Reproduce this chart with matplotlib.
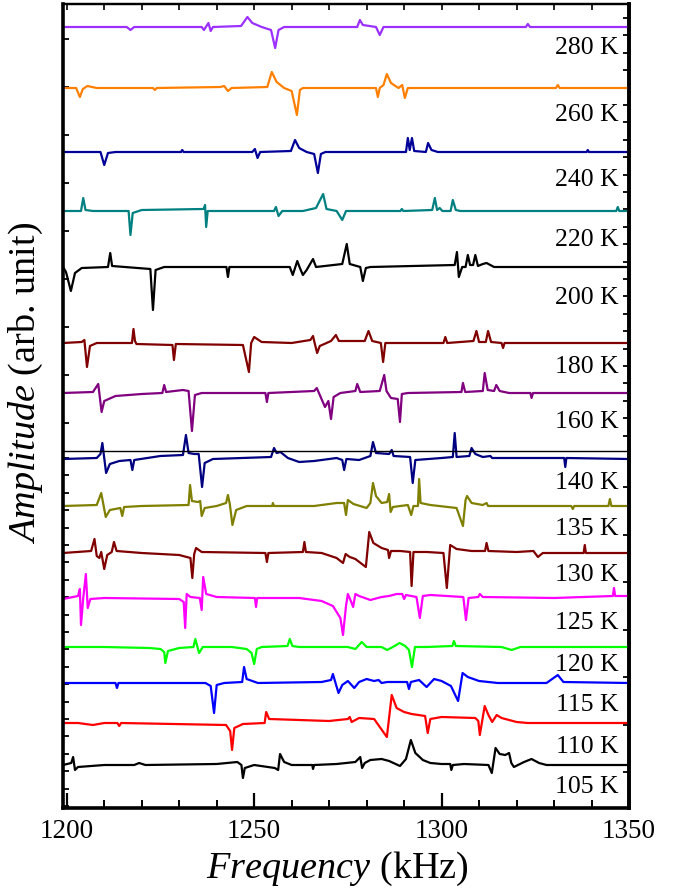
import matplotlib
matplotlib.use("Agg")
import matplotlib.pyplot as plt
import numpy as np
from matplotlib.ticker import MultipleLocator

# temperatures, top to bottom
temps = [280, 260, 240, 220, 200, 180, 160, 140, 135, 130, 125, 120, 115, 110, 105]

# spectra: (frequency kHz, amplitude arb. unit)
t280 = [(1199, 0), (1216, 0), (1217, -3), (1218, 0), (1236, 0), (1236.6, -3), (1237.8, 4), (1238.4, -4),
        (1239, 0), (1246.5, 1), (1248.2, 10), (1249.5, 4), (1252, 0), (1254.5, -3), (1255.6, -21),
        (1256.5, -3), (1258, 0), (1277.5, 0), (1278.2, 7), (1279, 2), (1282.5, 0), (1283.5, -8),
        (1284.5, 0), (1322.5, 0), (1323, 3), (1323.6, 0), (1350, 0)]
t260 = [(1199, 0), (1202.5, 0), (1203.5, -9), (1204.3, -1), (1205.5, 2), (1208, 0), (1223, 0), (1223.5, -2),
        (1224, 0), (1241, 1), (1242, 2), (1243, -3), (1244, 0), (1253.5, 1), (1254.7, 16), (1256, 6),
        (1258, 0), (1260, -3), (1261.4, -27), (1262.2, -2), (1263, 0), (1282.5, 0), (1283, -9), (1283.5, 0),
        (1284.5, 3), (1285.4, 14), (1286.5, 5), (1288.5, 0), (1289.5, 3), (1290.2, -10), (1291, 0),
        (1330.5, 0), (1331, 3), (1331.5, 0), (1350, 0)]
t240 = [(1199, 0), (1209, 0), (1210, -13), (1211, -1), (1213, 0), (1230.5, 0), (1230.8, 2), (1231.2, 0),
        (1249.5, 0), (1250.2, 3), (1250.9, -6), (1251.6, 0), (1259.8, 1), (1260.9, 12), (1262, 4),
        (1264, 0), (1266, -2), (1267, -21), (1267.8, -2), (1269, 0), (1290.5, 0), (1291, 14), (1291.5, 2),
        (1292.1, 14), (1292.7, 1), (1295.8, 0), (1296.4, 9), (1297.3, 2), (1299, 0), (1338.7, 0),
        (1339, 2), (1339.3, 0), (1350, 0)]
t220 = [(1199, 0), (1203.8, 0), (1204.4, 13), (1205, 1), (1207, 0), (1216.5, 0), (1217, -24), (1217.6, -2),
        (1220, 1), (1236.5, 2), (1236.9, 6), (1237.2, -16), (1237.6, 0), (1255.3, 0), (1255.8, 4),
        (1256.5, -5), (1257.5, 0), (1263, 0), (1266.5, 3), (1268.4, 17), (1269.3, 2), (1272, 0),
        (1273.5, -9), (1274.5, 0), (1289, 0), (1289.4, 2), (1289.8, 0), (1297.5, 1), (1298.2, 13),
        (1298.8, 1), (1299.5, 3), (1300.2, 0), (1302.4, 0), (1303, 11), (1303.8, 1), (1305, 0),
        (1346.6, 0), (1347, 4), (1347.4, 0), (1350, 0)]
t200 = [(1199, 0), (1199.8, -5), (1201.1, -24), (1202.2, -6), (1204, -1), (1211, 0), (1211.6, 14),
        (1212.1, 1), (1222.3, -2), (1223, -43), (1223.7, -3), (1226, 0), (1242.6, 0), (1243, -10),
        (1243.4, 0), (1259.5, 0), (1260.3, -8), (1261.5, 6), (1262.2, -1), (1263, -8), (1264, -3),
        (1265.7, 8), (1266.5, 0), (1273.5, 3), (1274.7, 23), (1275.5, 3), (1278.3, 0), (1279, -14),
        (1279.8, -1), (1281, 0), (1303.5, 2), (1304.1, 15), (1304.6, -10), (1305.5, 0), (1306.4, 0),
        (1307, 12), (1307.6, 2), (1308.4, 2), (1309, 12), (1309.7, 1), (1311, 3), (1312, 4), (1314, 0),
        (1350, 0)]
t180 = [(1199, 0), (1204, 1), (1204.7, 3), (1205.4, -24), (1206.2, -3), (1208, 0), (1217.4, 0),
        (1217.8, 14), (1218.2, 2), (1218.6, -1), (1228.2, -2), (1228.6, -17), (1229.1, -1), (1247, -2),
        (1248.6, -29), (1249.2, 0), (1250, 6), (1252, 1), (1260, 0), (1265, 3), (1265.7, 7), (1266.2, -1),
        (1266.8, -10), (1267.5, -3), (1270.5, 2), (1271.8, 8), (1272.6, 2), (1279.5, 2), (1280.5, 12),
        (1281.5, 2), (1283.8, 0), (1284.4, -19), (1285, 0), (1300.5, 0), (1301, 6), (1301.5, 0),
        (1308.5, 2), (1309.3, 12), (1310, 1), (1311.8, 1), (1312.4, 12), (1313.2, 1), (1316, 0),
        (1316.4, -5), (1316.8, 0), (1350, 0)]
t160 = [(1199, 0), (1207, 1), (1208.4, 9), (1209.3, -19), (1210, -8), (1213, -3), (1220, -1), (1225.5, 0),
        (1226, 8), (1226.5, 1), (1231, 3), (1232.5, 2), (1233.4, -38), (1234.2, -2), (1236, 0), (1253, 0),
        (1253.4, -9), (1253.8, 0), (1266, 2), (1266.7, 5), (1268.9, -14), (1269.8, -8), (1270.5, -26),
        (1271.2, -4), (1273, 0), (1277, 2), (1277.5, 9), (1278.3, 1), (1283.5, 2), (1284.7, 18),
        (1285.3, 2), (1286.5, -5), (1288.3, -6), (1288.9, -29), (1289.4, -1), (1291, 0), (1305.3, 1),
        (1305.7, 10), (1306.3, 1), (1311, 2), (1311.5, 20), (1312.3, 3), (1314, 2), (1314.6, 8),
        (1315.5, 2), (1318, 0), (1323.7, 0), (1324, -5), (1324.4, 0), (1350, 0)]
t140 = [(1199, -1), (1208, 0), (1209, 4), (1209.5, 15), (1210.5, -15), (1211.5, -6), (1214, -3),
        (1217, -2), (1217.5, -12), (1218, -2), (1225, 2), (1231, 3), (1231.8, 23), (1232.5, 5), (1234, 4),
        (1235.2, 4), (1236.1, -29), (1236.8, -5), (1239, -1), (1254.5, 1), (1255.3, 10), (1256, 5),
        (1257, 6), (1259, 0), (1262, -4), (1266, -3), (1272, 0), (1273.5, -2), (1274, -12), (1274.6, -1),
        (1278, -2), (1281, 2), (1281.7, 16), (1282.5, 5), (1286, 4), (1286.7, 8), (1287.2, 2),
        (1291.6, 1), (1292.3, -25), (1293, -2), (1300, 0), (1303, 1), (1303.5, 25), (1304, 1),
        (1307.4, 2), (1308, 10), (1309, 4), (1311, 1), (1313, 2), (1313.5, 0), (1332.7, 0), (1333, -9),
        (1333.3, 0), (1350, -1)]
t135 = [(1199, 0), (1208, 1), (1209.2, 13), (1210.4, -11), (1211.5, -4), (1214.3, -2), (1214.8, -10),
        (1215.3, -1), (1220, 0), (1232.5, 1), (1232.9, 21), (1233.4, 5), (1235, 4), (1235.6, 5),
        (1236, -10), (1236.8, -2), (1240, 0), (1242.5, 3), (1243, 11), (1243.5, 2), (1244.2, -19),
        (1245.2, -4), (1248, 0), (1254.8, 0), (1255, 3), (1255.3, 0), (1266, 0), (1272, 3), (1274, 3),
        (1274.5, -9), (1275, 6), (1276.5, 2), (1280, -2), (1281, 3), (1281.7, 23), (1282.5, 10),
        (1284, 3), (1285.5, 4), (1286, 12), (1286.4, -6), (1287, -1), (1291, 1), (1291.9, -9),
        (1292.5, 0), (1293.7, 0), (1294, 27), (1294.4, 3), (1297, 1), (1304, -2), (1305.7, -20),
        (1306.4, 6), (1306.8, 10), (1308, 3), (1311, 1), (1312, 3), (1312.4, 0), (1334.6, 0),
        (1335, -3), (1335.4, 0), (1344.5, 0), (1344.9, 7), (1345.3, 0), (1350, 0)]
t130 = [(1199, 0), (1206.5, 2), (1207.4, 14), (1208, -3), (1208.7, -5), (1209.2, 1), (1210, -16),
        (1210.8, -2), (1212, 1), (1212.6, 11), (1213.3, 2), (1220, 0), (1230, -2), (1233, -5),
        (1233.5, -25), (1234, -1), (1234.5, 5), (1236, 1), (1253, 0), (1253.4, -9), (1253.8, 0),
        (1263, 1), (1263.4, 11), (1263.8, 1), (1268, 0), (1272, -5), (1273.7, -10), (1274.4, -1),
        (1275.5, -4), (1277, -6), (1279.8, -14), (1280.7, 21), (1281.8, 10), (1284, 5), (1285.7, 3),
        (1286, -5), (1286.5, 2), (1289, 2), (1291.6, 1), (1292, -33), (1292.5, 1), (1296, 1),
        (1300.5, 0), (1301.4, -35), (1302.3, 8), (1304, 4), (1308, 2), (1311.6, 2), (1312, 10),
        (1312.5, 2), (1320, 1), (1324.5, 2), (1325.7, -4), (1327, 0), (1337.9, 0), (1338.2, 8),
        (1338.5, 0), (1350, 0)]
t125 = [(1199, -1), (1203, 2), (1203.5, 9), (1203.8, -27), (1204.4, 0), (1205.1, 24), (1205.6, -10),
        (1206.3, -1), (1210, 0), (1230, -1), (1231.2, -4), (1231.6, -30), (1232, 4), (1233, 1),
        (1235.5, 0), (1236, -12), (1236.4, 21), (1237.2, 4), (1240, 1), (1250.2, 0), (1250.5, -9),
        (1250.8, 0), (1262, 0), (1268, -3), (1271, -8), (1273, -20), (1273.7, -37), (1274.5, -8),
        (1275, 4), (1275.8, -3), (1276.4, -9), (1277, 4), (1278, 2), (1281, -2), (1284, 1), (1286, 2),
        (1288, 4), (1289.5, 4), (1290, -1), (1290.5, 3), (1293.3, 1), (1294.2, -20), (1295, 2),
        (1297, 3), (1305.8, 1), (1306.5, -22), (1307.2, 0), (1309.8, 1), (1310.2, 4), (1311, 1),
        (1330, 0), (1345.7, 2), (1346, 10), (1346.3, 2), (1350, 2)]
t120 = [(1199, 0), (1210, 0), (1222, -1), (1225, -2), (1226, -5), (1226.3, -16), (1227, -4), (1230, -1),
        (1233.8, 0), (1234.3, 8), (1234.8, 1), (1235.3, -6), (1236.3, 0), (1244, 0), (1248, -2),
        (1249.3, -6), (1250, -17), (1250.7, -2), (1252, 0), (1258.9, 1), (1259.5, 8), (1260.2, 1),
        (1262, 0), (1275, 0), (1277, -2), (1278.7, 5), (1280, 0), (1284, 0), (1285.5, -3), (1287, 0),
        (1288.8, 4), (1290.3, 1), (1291.3, -3), (1292.1, -20), (1292.9, 0), (1296, 0), (1302.9, 1),
        (1303.3, 6), (1303.8, 1), (1316, 0), (1318.7, -3), (1321, 0), (1350, 0)]
t115 = [(1199, 0), (1213, 0), (1213.4, -5), (1213.8, 0), (1237, 0), (1238.4, -3), (1239.3, -30),
        (1240, -2), (1242, 0), (1246.8, 1), (1247.3, 16), (1248, 4), (1251, 0), (1268, 1), (1270.5, 3),
        (1271, 9), (1272.5, -10), (1273.5, -2), (1275, 2), (1276.7, -5), (1278, 1), (1280, 4),
        (1282, 2), (1283.2, 3), (1284, 0), (1285.5, 1), (1290.8, 1), (1291.3, -6), (1291.8, 1),
        (1294, 3), (1296, -4), (1298, 4), (1300, 2), (1302.5, -3), (1304.4, -18), (1305.6, 10),
        (1307, 6), (1310, 2), (1315, 0), (1328, 0), (1331, 8), (1332.5, 1), (1350, 0)]
t110 = [(1199, 0), (1203, 0), (1207, -2), (1210, 0), (1213.5, 0), (1214, -3), (1214.5, 0), (1242.5, -2),
        (1243.6, -8), (1244.1, -27), (1244.7, -5), (1247, -1), (1252.8, 0), (1253.2, 11), (1254, 4),
        (1262, 3), (1270, 2), (1275, 4), (1275.5, 6), (1276, 1), (1278, 5), (1282, 4), (1285.4, -14),
        (1286.7, 28), (1288, 15), (1290, 11), (1292, 9), (1295.6, 7), (1296.3, -10), (1297, 4),
        (1300, 6), (1309, 5), (1309.8, 2), (1310.2, -12), (1311.5, 17), (1312.5, 8), (1313.5, 1),
        (1314.7, 8), (1316, 5), (1320, 1), (1323, 0), (1350, 0)]
t105 = [(1199, 0), (1201.2, 2), (1201.7, 8), (1202.2, -5), (1203, -2), (1210, 0), (1218, 0), (1219.3, 2),
        (1221, 0), (1240, 1), (1245.5, 3), (1246.6, 0), (1247, -13), (1247.5, -3), (1250, 0),
        (1255.5, -3), (1256.4, -5), (1256.9, 11), (1258, 3), (1260, 0), (1265.5, 0), (1265.7, -4),
        (1266, 0), (1272, 1), (1277, 3), (1278.3, 8), (1278.8, -3), (1279.5, 2), (1281, 5), (1284, 6),
        (1286, 4), (1288.9, -1), (1290.5, 6), (1291.8, 25), (1293, 12), (1295, 5), (1297, 2), (1300, 1),
        (1302.3, 1), (1302.6, -5), (1303, 0), (1306, 1), (1312.5, 0), (1313.4, -8), (1314.4, 17),
        (1315.5, 11), (1317, 10), (1318, 12), (1318.6, 2), (1319.3, -2), (1322, 3), (1324, 6),
        (1326, 2), (1328, 0), (1350, 0)]
spectra = [t280, t260, t240, t220, t200, t180, t160, t140, t135, t130, t125, t120, t115, t110, t105]

colors = ["#9B30FF", "#FF8000", "#000099", "#008080", "#000000", "#800000", "#800080",
          "#000080", "#808000", "#800000", "#FF00FF", "#00FF00", "#0000FF", "#FF0000", "#000000"]

# layout (pixel rows of baselines / label centres in the 892 px tall figure)
base_px = [27, 88, 152, 211, 267, 343, 393, 458, 506, 553, 598, 647, 683, 723, 765]
label_px = [48, 115, 180, 240, 298, 367, 422, 483, 529, 575, 623, 665, 705, 747, 787]
AX_BOTTOM_PX = 808

plt.rcParams["font.family"] = ["Liberation Serif", "DejaVu Serif"]
plt.rcParams["mathtext.fontset"] = "custom"
plt.rcParams["mathtext.rm"] = "Liberation Serif"
plt.rcParams["mathtext.it"] = "Liberation Serif:italic"

fig = plt.figure(figsize=(6.87, 8.92), dpi=100)
ax = fig.add_axes([63 / 687, 84 / 892, 566 / 687, 804 / 892])

for spec, col, bpx in zip(spectra, colors, base_px):
    f = np.array([p[0] for p in spec])
    a = np.array([p[1] for p in spec])
    ax.plot(f, a + (AX_BOTTOM_PX - bpx), color=col, lw=1.6, solid_joinstyle="round")

for T, lpx in zip(temps, label_px):
    ax.text(1347.3, AX_BOTTOM_PX - lpx, f"{T} K", ha="right", va="center", fontsize=18.5)

# panel separator
ax.axhline(AX_BOTTOM_PX - 451, color="black", lw=1.0)

ax.set_xlim(1199, 1350)
ax.set_ylim(0, 804)
ax.set_xticks([1200, 1250, 1300, 1350])
ax.xaxis.set_minor_locator(MultipleLocator(10))
ax.tick_params(axis="x", which="major", direction="in", length=11, width=1.6, labelsize=19.5, pad=8)
ax.tick_params(axis="x", which="minor", direction="in", length=6, width=1.4)

left_ticks = list(AX_BOTTOM_PX - np.arange(39, 449, 48)) + list(AX_BOTTOM_PX - np.arange(458, 808, 17.4))
right_ticks = list(AX_BOTTOM_PX - np.arange(18, 449, 17.4)) + list(AX_BOTTOM_PX - np.arange(487, 800, 47.5))
ax.set_yticks(left_ticks)
ax.tick_params(axis="y", direction="in", length=4, width=1.3, labelleft=False)

secy = ax.secondary_yaxis("right")
secy.set_yticks(right_ticks)
secy.tick_params(direction="in", length=4, width=1.3, labelright=False)
secy.spines["right"].set_linewidth(2.6)

secx = ax.secondary_xaxis("top")
secx.set_xticks(np.arange(1200, 1351, 10))
secx.tick_params(direction="in", length=4, width=1.2, labeltop=False)
secx.spines["top"].set_linewidth(1.6)

for side in ["left", "right", "bottom"]:
    ax.spines[side].set_linewidth(2.6)
ax.spines["top"].set_linewidth(1.6)

ax.set_xlabel(r"$\mathit{Frequency}$ (kHz)", fontsize=27.5)
ax.xaxis.set_label_coords(0.485, -0.052)
ax.set_ylabel(r"$\mathit{Amplitude}$ (arb. unit)", fontsize=27.5)
ax.yaxis.set_label_coords(-0.032, 0.529)

fig.savefig("out.png", dpi=100)
